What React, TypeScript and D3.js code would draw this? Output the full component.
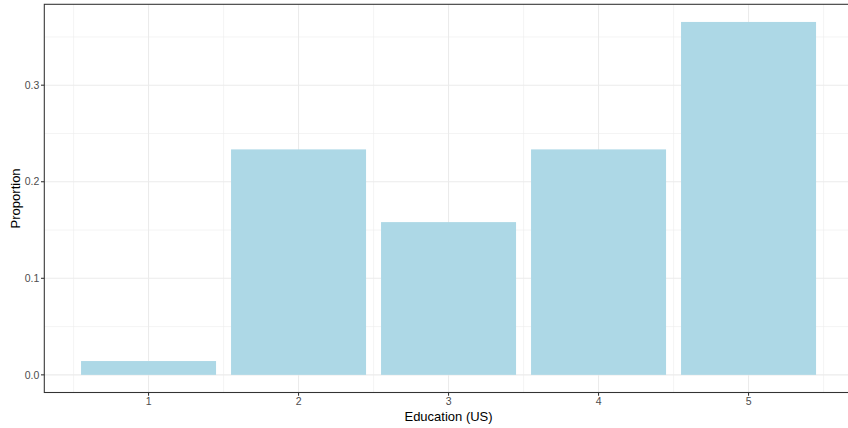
import React from "react";
import * as d3 from "d3";

const categories = [1, 2, 3, 4, 5];
const proportions = [0.0143, 0.2335, 0.1582, 0.2335, 0.3655];
const yTicks = [0, 0.1, 0.2, 0.3];
const yMinor = [0.05, 0.15, 0.25, 0.35];
const xMinor = [0.5, 1.5, 2.5, 3.5, 4.5, 5.5];
const xTitle = "Education (US)";
const yTitle = "Proportion";

const W = 848;
const H = 428;
const panel = { left: 44.3, top: 4.3, right: 852.8, bottom: 392.5 };

export default function App() {
  const barW = 0.9;
  const xMin = d3.min(categories)! - barW / 2;
  const xMax = d3.max(categories)! + barW / 2;
  const xPad = (xMax - xMin) * 0.05;
  const x = d3
    .scaleLinear()
    .domain([xMin - xPad, xMax + xPad])
    .range([panel.left, panel.right]);
  const yMax = d3.max(proportions)!;
  const y = d3
    .scaleLinear()
    .domain([-yMax * 0.05, yMax * 1.05])
    .range([panel.bottom, panel.top]);

  const grid = "#EBEBEB";
  const axisCol = "#333333";
  const labCol = "#4D4D4D";
  const font = "Liberation Sans, Arial, sans-serif";

  return (
    <svg
      width={W}
      height={H}
      style={{ position: "absolute", left: 0, top: 0, background: "#fff" }}
      fontFamily={font}
    >
      <rect x={0} y={0} width={W} height={H} fill="#fff" />
      <defs>
        <clipPath id="pclip">
          <rect x={panel.left} y={panel.top} width={panel.right - panel.left} height={panel.bottom - panel.top} />
        </clipPath>
      </defs>
      <g clipPath="url(#pclip)">
        {yMinor.map((v) => (
          <line key={"ym" + v} x1={panel.left} x2={panel.right} y1={y(v)} y2={y(v)} stroke={grid} strokeWidth={0.55} />
        ))}
        {xMinor.map((v) => (
          <line key={"xm" + v} y1={panel.top} y2={panel.bottom} x1={x(v)} x2={x(v)} stroke={grid} strokeWidth={0.55} />
        ))}
        {yTicks.map((v) => (
          <line key={"yM" + v} x1={panel.left} x2={panel.right} y1={y(v)} y2={y(v)} stroke={grid} strokeWidth={1.07} />
        ))}
        {categories.map((v) => (
          <line key={"xM" + v} y1={panel.top} y2={panel.bottom} x1={x(v)} x2={x(v)} stroke={grid} strokeWidth={1.07} />
        ))}
        {categories.map((c, i) => (
          <rect
            key={"b" + c}
            x={x(c - barW / 2)}
            width={x(c + barW / 2) - x(c - barW / 2)}
            y={y(proportions[i])}
            height={y(0) - y(proportions[i])}
            fill="#ADD8E6"
          />
        ))}
      </g>
      <rect
        x={panel.left}
        y={panel.top}
        width={panel.right - panel.left}
        height={panel.bottom - panel.top}
        fill="none"
        stroke={axisCol}
        strokeWidth={1.07}
      />
      {yTicks.map((v) => (
        <g key={"yt" + v}>
          <line x1={panel.left - 3.3} x2={panel.left} y1={y(v)} y2={y(v)} stroke={axisCol} strokeWidth={1.07} />
          <text x={panel.left - 5} y={y(v)} dy="0.35em" textAnchor="end" fontSize={10.5} fill={labCol}>
            {d3.format(".1f")(v)}
          </text>
        </g>
      ))}
      {categories.map((c) => (
        <g key={"xt" + c}>
          <line y1={panel.bottom} y2={panel.bottom + 3.3} x1={x(c)} x2={x(c)} stroke={axisCol} strokeWidth={1.07} />
          <text x={x(c)} y={panel.bottom + 5} dy="0.75em" textAnchor="middle" fontSize={10.5} fill={labCol}>
            {c}
          </text>
        </g>
      ))}
      <text
        x={(panel.left + panel.right) / 2}
        y={416.5}
        dy="0.35em"
        textAnchor="middle"
        fontSize={13}
        fill="#000"
      >
        {xTitle}
      </text>
      <text
        transform={`translate(15,${(panel.top + panel.bottom) / 2}) rotate(-90)`}
        dy="0.35em"
        textAnchor="middle"
        fontSize={13}
        fill="#000"
      >
        {yTitle}
      </text>
    </svg>
  );
}
